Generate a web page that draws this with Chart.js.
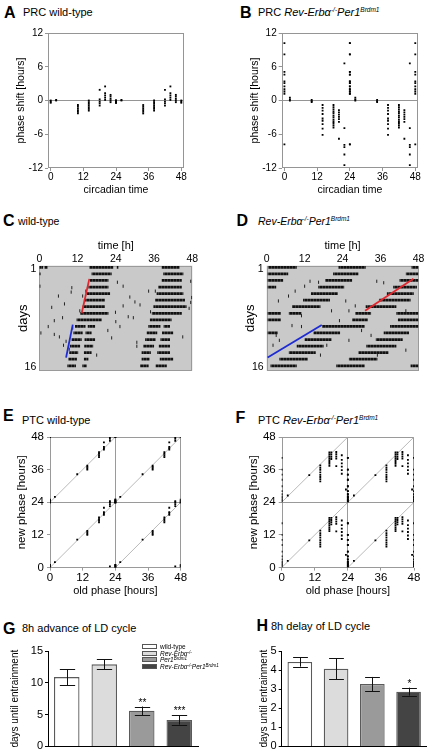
<!DOCTYPE html>
<html>
<head>
<meta charset="utf-8">
<script src="https://cdn.jsdelivr.net/npm/chart.js@4.4.1/dist/chart.umd.min.js"></script>
<style>
body { margin: 0; background: #fff; }
#fig { position: relative; width: 430px; height: 755px; overflow: hidden; font-family: "Liberation Sans", Arial, sans-serif; color: #000; }
#fig canvas { position: absolute; }
.t { position: absolute; white-space: nowrap; }
.L { font-weight: bold; font-size: 16px; line-height: 16px; }
.s { font-size: 11px; line-height: 11px; }
.m { font-size: 10.5px; line-height: 10.5px; }
.t sup { font-size: 6.5px; line-height: 0; vertical-align: 4px; }
.lg { position: absolute; left: 142px; font-size: 6.5px; line-height: 6px; height: 6px; white-space: nowrap; }
.lg span { display: inline-block; width: 13px; height: 3px; border: 1px solid #555; margin-right: 3px; vertical-align: 0; }
.lg sup { font-size: 4.5px; line-height: 0; vertical-align: 2px; }
</style>
</head>
<body>
<div id="fig">
  <div class="t L" style="left:4px;top:5px">A</div>
  <div class="t s" style="left:23px;top:6.7px">PRC wild-type</div>
  <div class="t L" style="left:240px;top:5px">B</div>
  <div class="t s" style="left:258px;top:6.7px">PRC <i>Rev-Erbα<sup>-/-</sup>Per1<sup>Brdm1</sup></i></div>

  <div class="t L" style="left:3px;top:212.5px">C</div>
  <div class="t m" style="left:18px;top:216px">wild-type</div>
  <div class="t L" style="left:236.5px;top:212.5px">D</div>
  <div class="t m" style="left:258px;top:216px"><i>Rev-Erbα<sup>-/-</sup>Per1<sup>Brdm1</sup></i></div>

  <div class="t L" style="left:3px;top:408.2px">E</div>
  <div class="t s" style="left:22px;top:414.7px">PTC wild-type</div>
  <div class="t L" style="left:235.5px;top:409.5px">F</div>
  <div class="t s" style="left:258px;top:414.7px">PTC <i>Rev-Erbα<sup>-/-</sup>Per1<sup>Brdm1</sup></i></div>

  <div class="t L" style="left:3px;top:620.8px">G</div>
  <div class="t s" style="left:22px;top:622.7px">8h advance of LD cycle</div>
  <div class="t L" style="left:256.5px;top:617.5px">H</div>
  <div class="t s" style="left:271px;top:620.7px">8h delay of LD cycle</div>

  <canvas id="prcWt" width="205" height="175" style="left:0;top:25px"></canvas>
  <canvas id="prcMut" width="215" height="175" style="left:215px;top:25px"></canvas>
  <canvas id="actoWt" width="205" height="150" style="left:0;top:230px"></canvas>
  <canvas id="actoMut" width="215" height="150" style="left:215px;top:230px"></canvas>
  <canvas id="ptcWt" width="205" height="175" style="left:0;top:425px"></canvas>
  <canvas id="ptcMut" width="215" height="175" style="left:215px;top:425px"></canvas>
  <canvas id="advance" width="215" height="115" style="left:0;top:640px"></canvas>
  <canvas id="delay" width="215" height="115" style="left:215px;top:640px"></canvas>

  <div class="lg" style="top:644.3px"><span style="background:#fff"></span>wild-type</div>
  <div class="lg" style="top:651px"><span style="background:#dcdcdc"></span><i>Rev-Erbα<sup>-/-</sup></i></div>
  <div class="lg" style="top:657.3px"><span style="background:#9a9a9a"></span><i>Per1<sup>Brdm1</sup></i></div>
  <div class="lg" style="top:664px"><span style="background:#444"></span><i>Rev-Erbα<sup>-/-</sup>Per1<sup>Brdm1</sup></i></div>
</div>

<script>
'use strict'

/* PRC: phase shifts per circadian time of the light pulse (double plotted) */
var prcPhase = [0, 2, 10, 14, 18, 20, 22, 24];
var prcWildType = [
    [0, -0.2, -0.4],
    [0, 0.1],
    [-0.8, -1.1, -1.4, -1.7, -2.0, -2.3],
    [0, -0.3, -0.6, -0.9, -1.2, -1.5, -1.8],
    [1.9, 0.2, -0.2, -0.5, -0.9],
    [2.5, 1.3, 0.9, 0.5, 0.1],
    [1.0, 0.7, 0.3, 0, -0.3],
    [0, -0.2, -0.4]
];
var prcMutant = [
    [10.2, 8.2, 5.1, 4.6, 3.4, 3.1, 2.5, 2.0, 1.6, 1.2, -7.8],
    [0.5, 0.2, 0],
    [0.1, -0.1, -0.3],
    [-0.8, -1.3, -1.8, -2.4, -3.2, -3.6, -4.2, -5.0, -6.1],
    [-0.8, -1.2, -1.6, -2.0, -2.3, -2.7, -3.0, -3.4, -3.7, -4.0, -4.4, -4.8],
    [-1.7, -2.1, -2.5, -2.9, -3.3, -3.8, -6.8],
    [6.6, -4.9, -7.9, -8.3, -9.6, -11.5],
    [10.2, 8.2, 5.1, 4.6, 3.4, 3.1, 2.5, 2.0, 1.6, 1.2, -7.8]
];
var prcTicksX = [0, 12, 24, 36, 48];
var prcTicksY = [-12, -6, 0, 6, 12];

/* actograms: activity bouts per day row, hours 0-48 */
var dayLabels = ['1', '2', '3', '4', '5', '6', '7', '8', '9', '10', '11', '12', '13', '14', '15', '16'];
var wtRow = [1, 1, 1, 1, 1, 2, 2, 2, 3, 3, 4, 4, 5, 5, 6, 6, 7, 7, 8, 8, 9, 9,
    10, 10, 10, 10, 11, 11, 11, 11, 12, 12, 12, 12, 13, 13, 13, 13, 14, 14, 14, 14, 15, 15, 15, 15, 16, 16, 16, 16];
var wtOn = [0, 1.6, 15.7, 24.3, 38.4, 0, 16.4, 38.9, 15.9, 38.4, 15.4, 37.3, 14.9, 36.8, 14.0, 36.3, 13.6, 35.8, 12.8, 35.3, 11.7, 34.7,
    11.2, 15.2, 34.2, 39.0, 10.7, 14.5, 33.7, 38.5, 10.1, 14.2, 33.2, 38.0, 9.6, 14.1, 32.6, 37.5, 9.4, 14.0, 32.1, 37.0, 9.1, 14.0, 32.1, 37.8, 8.8, 13.5, 31.6, 36.5];
var wtOff = [1.2, 2.6, 23.2, 24.8, 44.0, 0.4, 22.7, 45.2, 21.7, 44.7, 21.7, 44.7, 22.2, 45.2, 20.6, 45.7, 20.6, 46.2, 21.7, 44.7, 19.6, 41.5,
    14.5, 17.5, 38.0, 41.0, 13.6, 16.4, 37.0, 42.0, 13.3, 17.5, 36.5, 41.0, 12.8, 16.9, 36.0, 41.0, 12.2, 16.4, 35.0, 41.0, 11.8, 15.4, 34.6, 42.0, 11.5, 14.9, 34.3, 40.0];
var wtSpotX = [24.5, 47.5, 0.2, 10.2, 26.3, 10.0, 14.6, 34.3, 36.4, 6.0, 13.6, 28.4, 47.8, 7.9, 30.0, 47.5, 3.9, 26.3, 31.6, 12.7, 23.9, 34.9, 47.0,
    7.3, 27.9, 29.5, 4.7, 24.0, 2.8, 10.5, 25.3, 0.5, 4.7, 21.5, 6.3, 22.7, 45.0, 8.4, 30.6, 7.6, 30.6, 9.4, 18.0];
var wtSpotDay = [1.2, 1, 2, 2.3, 2, 3.2, 3, 3, 3, 4, 4, 4.2, 4.3, 5.6, 5.2, 5.3, 6.3, 6, 5.8, 7, 7.3, 7.2, 6.5,
    8.4, 8.2, 8.4, 9, 9.2, 10.2, 10.5, 10.2, 11.5, 11.8, 11, 12.3, 12.5, 12.3, 13.2, 13.4, 14, 14.2, 14.8, 16];
var wtRedX = [15.7, 13.3];
var wtRedDay = [0.5, 7.5];
var wtBlueX = [10.5, 8.4];
var wtBlueDay = [9.8, 16.5];

var mutRow = [1, 1, 1, 2, 2, 2, 3, 3, 3, 4, 4, 4, 5, 5, 6, 6, 7, 7, 8, 8, 8, 8, 9, 9, 9,
    10, 10, 11, 11, 11, 12, 12, 13, 13, 14, 14, 15, 15, 16, 16, 16];
var mutOn = [0.5, 22.7, 45.8, 0.3, 21.0, 44.0, 0.3, 18.5, 42.0, 0.3, 16.3, 40.0, 14.0, 38.0, 11.5, 35.5, 8.0, 31.3, 0.3, 7.0, 28.0, 41.0, 0.3, 27.0, 41.5,
    17.5, 39.0, 0.3, 14.8, 37.0, 12.0, 34.5, 9.5, 31.5, 7.0, 29.0, 4.0, 26.0, 1.2, 22.0, 45.5];
var mutOff = [9.5, 31.3, 48, 6.8, 29.0, 48, 5.2, 27.0, 48, 3.0, 24.5, 47.5, 22.5, 46.5, 20.0, 45.5, 17.0, 41.0, 4.5, 11.0, 33.0, 48, 4.5, 32.0, 48,
    31.0, 48, 3.5, 23.2, 45.0, 20.5, 43.0, 18.0, 41.0, 15.5, 38.5, 13.0, 35.0, 9.5, 31.0, 48];
var mutSpotX = [13.7, 16.4, 34.8, 37.0, 9.0, 12.0, 6.9, 3.7, 25.0, 28.0, 20.5, 26.0, 44.0, 11.0, 23.0, 8.0, 11.0, 30.0, 33.0, 3.0, 4.0, 26.0, 2.0, 19.0, 44.0, 17.0, 35.0];
var mutSpotDay = [1, 1.2, 1, 1.3, 3, 2, 4, 5, 5, 6, 7, 7, 7, 8, 9, 10, 10.2, 11, 12, 12, 13, 13, 14, 14, 15, 16, 16];
var mutRedX = [31.1, 46.4];
var mutRedDay = [7.0, 0.5];
var mutBlueX = [0.3, 17.4];
var mutBlueDay = [16.5, 9.9];
var actoTicks = [0, 12, 24, 36, 48];

/* PTC: new phase vs old phase, single copy, double plotted on both axes */
var ptcOldWt = [0, 1.8, 10, 13.7, 18, 19.8, 22, 24];
var ptcNewWt = [
    [0, 0.5, 1, 24],
    [2],
    [10.3],
    [12, 12.5, 13, 13.5],
    [16.6, 17.2, 17.8, 18.4],
    [19.4, 19.9, 20.4, 22],
    [0.4, 22.6, 23.3, 24],
    [0, 0.5, 1, 24]
];
var ptcOldMut = [0, 2.2, 10, 14, 17.3, 18, 19.8, 21.8, 23.3, 24];
var ptcNewMut = [
    [16.3, 12, 10.2, 8.3, 5.9, 4.1, 3, 2.2, 1.6, 1, 0.4],
    [2.5],
    [10],
    [13.6, 12.7, 11.9, 11, 10.1, 9.3, 8.5, 7.7],
    [18.3, 17.6, 16.9, 16.2, 15.5, 14.8, 14.1, 13.4],
    [18.3, 17.5, 16.7, 15.9],
    [18.5, 17.7, 16.9, 16.1, 13.3],
    [17.3, 15.6, 14.3, 13.1, 11.8, 10.5],
    [4.7],
    [16.3, 12, 10.2, 8.3, 5.9, 4.1, 3, 2.2, 1.6, 1, 0.4]
];
var ptcTicks = [0, 12, 24, 36, 48];

/* entrainment after LD shift */
var genotypes = ['wild-type', 'Rev-Erbα-/-', 'Per1Brdm1', 'Rev-Erbα-/-Per1Brdm1'];
var advanceDays = [10.9, 12.9, 5.6, 4.15];
var advanceSem = [1.25, 0.8, 0.67, 0.72];
var advanceStars = ['', '', '**', '***'];
var delayDays = [4.42, 4.07, 3.27, 2.87];
var delaySem = [0.24, 0.54, 0.37, 0.21];
var delayStars = ['', '', '', '*'];
var barFill = ['#ffffff', '#dcdcdc', '#9a9a9a', '#444444'];

var FONT = '"Liberation Sans", Arial, sans-serif';
Chart.defaults.font.family = FONT;
Chart.defaults.color = '#000';
Chart.defaults.animation = false;
Chart.defaults.responsive = false;
Chart.defaults.plugins.legend.display = false;
Chart.defaults.plugins.tooltip.enabled = false;

var CLEAR = 'rgba(0,0,0,0)';

function fit(size) {
    return function (scale) {
        if (scale.isHorizontal()) scale.height = size; else scale.width = size;
    };
}
function fixedTicks(list) {
    return function (scale) {
        scale.ticks = list.map(function (v) { return { value: v }; });
    };
}

/* box round the plot area, optional fill behind the marks */
Chart.register({
    id: 'frame',
    beforeDatasetsDraw: function (chart, args, opts) {
        if (!opts.color) return;
        var a = chart.chartArea, ctx = chart.ctx;
        ctx.save();
        if (opts.fill) {
            ctx.fillStyle = opts.fill;
            ctx.fillRect(a.left, a.top, a.right - a.left, a.bottom - a.top);
        }
        ctx.strokeStyle = opts.color;
        ctx.lineWidth = 1;
        ctx.strokeRect(Math.round(a.left) + 0.5, Math.round(a.top) + 0.5, Math.round(a.right - a.left) - 1, Math.round(a.bottom - a.top) - 1);
        ctx.restore();
    }
});

/* error bars and significance stars for the bar panels */
Chart.register({
    id: 'errorBars',
    afterDatasetsDraw: function (chart, args, opts) {
        if (!opts.sem) return;
        var meta = chart.getDatasetMeta(0);
        var y = chart.scales.y;
        var ctx = chart.ctx;
        var values = chart.data.datasets[0].data;
        ctx.save();
        ctx.strokeStyle = '#111';
        ctx.lineWidth = 1;
        ctx.fillStyle = '#000';
        ctx.font = '10px ' + FONT;
        ctx.textAlign = 'center';
        meta.data.forEach(function (bar, i) {
            var top = y.getPixelForValue(values[i] + opts.sem[i]);
            var bot = y.getPixelForValue(values[i] - opts.sem[i]);
            var x = Math.round(bar.x) + 0.5;
            var half = bar.width * 0.3;
            ctx.beginPath();
            ctx.moveTo(x, top); ctx.lineTo(x, bot);
            ctx.moveTo(x - half, Math.round(top) + 0.5); ctx.lineTo(x + half, Math.round(top) + 0.5);
            ctx.moveTo(x - half, Math.round(bot) + 0.5); ctx.lineTo(x + half, Math.round(bot) + 0.5);
            ctx.stroke();
            if (opts.stars[i]) ctx.fillText(opts.stars[i], x, top - 1);
        });
        ctx.restore();
    }
});

/* histogram-like texture for activity bouts */
function stripes() {
    var c = document.createElement('canvas');
    c.width = 3; c.height = 8;
    var g = c.getContext('2d');
    g.fillStyle = '#111';
    g.fillRect(0, 0, 2, 8);
    g.fillStyle = '#3c3c3c';
    g.fillRect(2, 0, 1, 8);
    return g.createPattern(c, 'repeat');
}

function prcChart(id, values, pad, yTitleFont) {
    var points = [];
    prcPhase.forEach(function (p, i) {
        values[i].forEach(function (v) {
            points.push({ x: p, y: v });
            points.push({ x: p + 24, y: v });
        });
    });
    new Chart(document.getElementById(id), {
        type: 'scatter',
        data: {
            datasets: [{
                data: points,
                pointStyle: 'rect',
                radius: 1.3,
                backgroundColor: '#000',
                borderWidth: 0,
            }]
        },
        options: {
            layout: { padding: pad },
            plugins: { frame: { color: '#959595' } },
            scales: {
                x: {
                    type: 'linear', min: -1, max: 49,
                    afterBuildTicks: fixedTicks(prcTicksX),
                    afterFit: fit(28.3),
                    border: { display: false },
                    grid: { drawOnChartArea: false, tickLength: 3, tickColor: '#959595' },
                    ticks: { padding: 0, maxRotation: 0, font: { size: 10 } },
                    title: { display: true, text: 'circadian time', padding: 0, font: { size: 10.5 } }
                },
                y: {
                    type: 'linear', min: -12, max: 12,
                    afterBuildTicks: fixedTicks(prcTicksY),
                    afterFit: fit(33),
                    border: { display: false },
                    grid: {
                        color: function (c) { return c.tick && c.tick.value === 0 ? '#959595' : CLEAR; },
                        tickLength: 3, tickColor: '#959595'
                    },
                    ticks: { padding: 2, font: { size: 10 } },
                    title: { display: true, text: 'phase shift [hours]', padding: 0, font: { size: yTitleFont } }
                }
            }
        }
    });
}

function actogram(id, rows, on, off, spotX, spotDay, red, blue, pad, yWidth) {
    var bouts = rows.map(function (r, i) { return { y: String(r), x: [on[i], off[i]] }; });
    var spots = spotX.map(function (x, i) { return { x: x, y: spotDay[i] }; });
    function line(xs, days, color) {
        return {
            type: 'line', yAxisID: 'yl', order: 0,
            data: xs.map(function (x, i) { return { x: x, y: days[i] }; }),
            borderColor: color, borderWidth: 1.8, pointRadius: 0, fill: false
        };
    }
    new Chart(document.getElementById(id), {
        type: 'bar',
        data: {
            labels: dayLabels,
            datasets: [{
                data: bouts,
                backgroundColor: stripes(),
                borderWidth: 0,
                barPercentage: 0.85,
                categoryPercentage: 1,
                order: 2
            }, {
                type: 'scatter', yAxisID: 'yl', order: 1,
                data: spots,
                pointStyle: 'line', rotation: 90, radius: 1.6,
                borderColor: '#222', borderWidth: 1
            },
            line(red[0], red[1], '#e3262d'),
            line(blue[0], blue[1], '#1d2bd2')]
        },
        options: {
            indexAxis: 'y',
            layout: { padding: pad },
            plugins: { frame: { color: '#9a9a9a', fill: '#c9c9c9' } },
            scales: {
                x: {
                    type: 'linear', position: 'top', min: 0, max: 48,
                    afterBuildTicks: fixedTicks(actoTicks),
                    afterFit: fit(26.3),
                    border: { display: false },
                    grid: { display: false, drawTicks: false },
                    ticks: { padding: 0, maxRotation: 0, font: { size: 10.5 } },
                    title: { display: true, text: 'time [h]', padding: 0, font: { size: 11 } }
                },
                y: {
                    type: 'category',
                    afterFit: fit(yWidth),
                    border: { display: false },
                    grid: { display: false, drawTicks: false },
                    ticks: {
                        autoSkip: false, padding: 3, font: { size: 10.5 },
                        callback: function (v, i) { return i === 0 || i === dayLabels.length - 1 ? dayLabels[i] : ''; }
                    },
                    title: { display: true, text: 'days', padding: 0, font: { size: 13 } }
                },
                yl: { type: 'linear', display: false, min: 0.5, max: 16.5, reverse: true }
            }
        }
    });
}

function ptcChart(id, olds, news, pad) {
    var shifts = [[0, 0], [24, 0], [0, 24], [24, 24]];
    var points = [];
    olds.forEach(function (o, i) {
        news[i].forEach(function (n) {
            shifts.forEach(function (s) { points.push({ x: o + s[0], y: n + s[1] }); });
        });
    });
    var diagonals = shifts.map(function (s) {
        return {
            type: 'line',
            data: [{ x: s[0], y: s[1] }, { x: s[0] + 24, y: s[1] + 24 }],
            borderColor: '#a8a8a8', borderWidth: 0.8, pointRadius: 0, order: 2
        };
    });
    new Chart(document.getElementById(id), {
        type: 'scatter',
        data: {
            datasets: diagonals.concat([{
                data: points,
                pointStyle: 'rect', radius: 1.3,
                backgroundColor: '#000', borderWidth: 0, order: 1
            }])
        },
        options: {
            layout: { padding: pad },
            plugins: { frame: { color: '#9a9a9a' } },
            scales: {
                x: {
                    type: 'linear', min: 0, max: 48,
                    afterBuildTicks: fixedTicks(ptcTicks),
                    afterFit: fit(30),
                    border: { display: false },
                    grid: {
                        color: function (c) { return c.tick && c.tick.value === 24 ? '#9a9a9a' : CLEAR; },
                        tickLength: 3, tickColor: '#9a9a9a'
                    },
                    ticks: { padding: 0, maxRotation: 0, font: { size: 11.5 } },
                    title: { display: true, text: 'old phase [hours]', padding: 0, font: { size: 11 } }
                },
                y: {
                    type: 'linear', min: 0, max: 48,
                    afterBuildTicks: fixedTicks(ptcTicks),
                    afterFit: fit(35),
                    border: { display: false },
                    grid: {
                        color: function (c) { return c.tick && c.tick.value === 24 ? '#9a9a9a' : CLEAR; },
                        tickLength: 3, tickColor: '#9a9a9a'
                    },
                    ticks: { padding: 3, font: { size: 11.5 } },
                    title: { display: true, text: 'new phase [hours]', padding: 0, font: { size: 11.5 } }
                }
            }
        }
    });
}

function entrainChart(id, values, sem, stars, yMax, pad, yWidth) {
    new Chart(document.getElementById(id), {
        type: 'bar',
        data: {
            labels: genotypes,
            datasets: [{
                data: values,
                backgroundColor: barFill,
                borderColor: '#5a5a5a',
                borderWidth: 1.3,
                barPercentage: 0.68,
                categoryPercentage: 1
            }]
        },
        options: {
            layout: { padding: pad },
            plugins: { errorBars: { sem: sem, stars: stars } },
            scales: {
                x: {
                    afterFit: fit(0),
                    grid: { display: false, drawTicks: false },
                    ticks: { display: false },
                    border: { color: '#000', width: 1 }
                },
                y: {
                    min: 0, max: yMax,
                    afterFit: fit(yWidth),
                    border: { color: '#000', width: 1 },
                    grid: { drawOnChartArea: false, tickLength: 3, tickColor: '#000' },
                    ticks: { stepSize: yMax === 15 ? 5 : 1, padding: 2, font: { size: 11 } },
                    title: { display: true, text: 'days until entrainment', padding: 0, font: { size: 10 } }
                }
            }
        }
    });
}

prcChart('prcWt', prcWildType, { left: 15, top: 7, right: 21, bottom: 3.7 }, 10.5);
prcChart('prcMut', prcMutant, { left: 33.7, top: 7, right: 12, bottom: 3.7 }, 10.5);

actogram('actoWt', wtRow, wtOn, wtOff, wtSpotX, wtSpotDay,
    [wtRedX, wtRedDay], [wtBlueX, wtBlueDay],
    { left: 15.5, top: 9.4, right: 12.7, bottom: 5.5 }, 23.8);
actogram('actoMut', mutRow, mutOn, mutOff, mutSpotX, mutSpotDay,
    [mutRedX, mutRedDay], [mutBlueX, mutBlueDay],
    { left: 27.2, top: 9.4, right: 11.5, bottom: 5 }, 24.5);

ptcChart('ptcWt', ptcOldWt, ptcNewWt, { left: 15, top: 12, right: 24.3, bottom: 2.4 });
ptcChart('ptcMut', ptcOldMut, ptcNewMut, { left: 31.7, top: 12, right: 16, bottom: 2.4 });

entrainChart('advance', advanceDays, advanceSem, advanceStars, 15, { left: 9, top: 11, right: 17, bottom: 7 }, 39);
entrainChart('delay', delayDays, delaySem, delayStars, 5, { left: 43.7, top: 11, right: 3.3, bottom: 7 }, 23);
</script>
</body>
</html>
